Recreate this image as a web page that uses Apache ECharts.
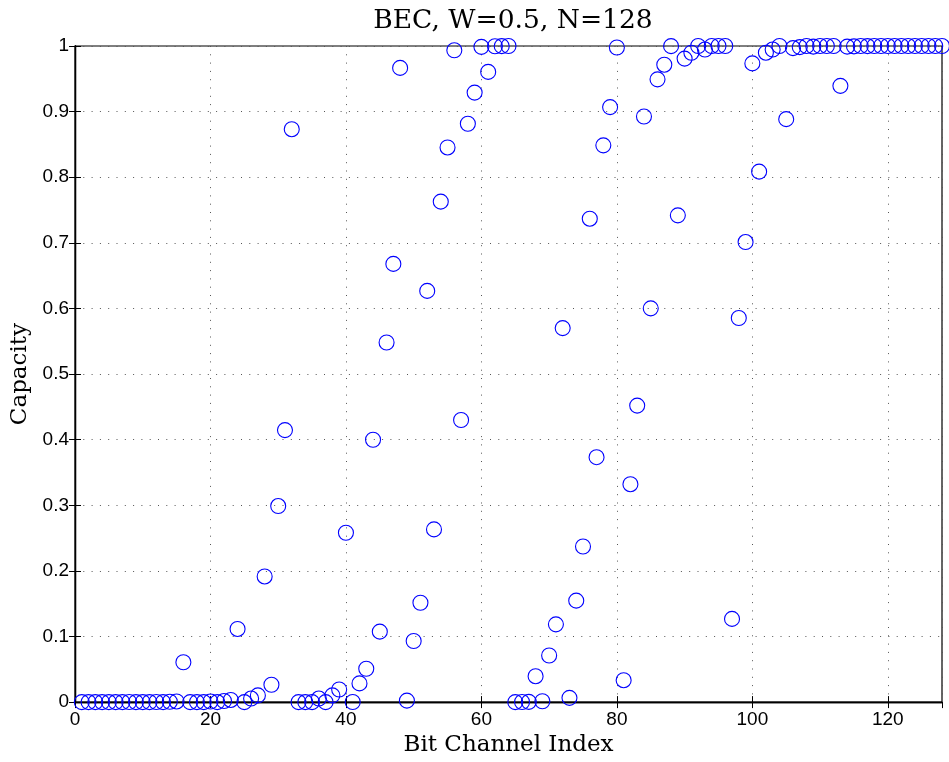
<!DOCTYPE html>
<html>
<head>
<meta charset="utf-8">
<script src="https://cdn.jsdelivr.net/npm/echarts@6/dist/echarts.min.js"></script>
<style>
  html, body { margin: 0; padding: 0; background: #fff; }
  #chart { width: 949px; height: 762px; }
</style>
</head>
<body>
<div id="chart"></div>
<script>
// capacity of each bit channel (channels 1..128)
const capacity1to32 = [
  0, 0, 0, 0, 0, 0, 0, 0.0001, 0, 0, 0, 0.0002, 0, 0.0005, 0.0010, 0.0607,
  0, 0, 0, 0.0009, 0, 0.0017, 0.0033, 0.1115, 0, 0.0054, 0.0102, 0.1915, 0.0265, 0.2988, 0.4146, 0.8732
]
const capacity33to64 = [
  0, 0, 0, 0.0054, 0, 0.0103, 0.0192, 0.2581, 0.0002, 0.0285, 0.0508, 0.3999, 0.1074, 0.5481, 0.6679, 0.9666,
  0.0023, 0.0931, 0.1514, 0.6267, 0.2632, 0.7628, 0.8454, 0.9935, 0.4300, 0.8815, 0.9290, 0.9987, 0.9605, 0.9996, 0.9998, 1
]
const capacity65to96 = [
  0, 0.0002, 0.0004, 0.0395, 0.0013, 0.0710, 0.1185, 0.5700, 0.0065, 0.1546, 0.2372, 0.7368, 0.3733, 0.8486, 0.9069, 0.9977,
  0.0334, 0.3321, 0.4519, 0.8926, 0.6001, 0.9492, 0.9715, 0.9998, 0.7419, 0.9808, 0.9897, 1, 0.9946, 1, 1, 1
]
const capacity97to128 = [
  0.1268, 0.5854, 0.7012, 0.9735, 0.8085, 0.9898, 0.9946, 1, 0.8885, 0.9967, 0.9983, 1, 0.9991, 1, 1, 1,
  0.9393, 0.9990, 0.9995, 1, 0.9998, 1, 1, 1, 0.9999, 1, 1, 1, 1, 1, 1, 1
]
const capacity = [...capacity1to32, ...capacity33to64, ...capacity65to96, ...capacity97to128]
const points = capacity.map((c, i) => [i + 1, c])

const titleText = 'BEC, W=0.5, N=128'
const xName = 'Bit Channel Index'
const yName = 'Capacity'

const serif = 'DejaVu Serif'
const sans = 'Liberation Sans'

const dotted = { color: '#555', width: 1, type: [1, 7.3] }

const chart = echarts.init(document.getElementById('chart'))
chart.setOption({
  animation: false,
  backgroundColor: '#fff',
  title: {
    text: titleText,
    left: 508,
    textAlign: 'center',
    top: 3,
    textStyle: { fontFamily: serif, fontWeight: 'normal', fontSize: 26.5, color: '#000' }
  },
  grid: {
    left: 75, right: 7, top: 46, bottom: 59,
    show: true, borderColor: '#000', borderWidth: 1.2
  },
  xAxis: [{
    type: 'value', min: 0, max: 128, interval: 20,
    name: xName, nameLocation: 'middle', nameGap: 27,
    nameTextStyle: { fontFamily: serif, fontSize: 23, color: '#000' },
    axisLine: { show: true, onZero: false, lineStyle: { color: '#000', width: 1.3 } },
    axisTick: { show: true, inside: true, length: 6, lineStyle: { color: '#000' } },
    axisLabel: { fontFamily: sans, fontSize: 19, color: '#000', margin: 8, showMaxLabel: false },
    splitLine: { show: true, lineStyle: dotted }
  }, {
    type: 'value', min: 0, max: 128, interval: 20, position: 'top',
    axisLine: { show: true, lineStyle: { color: '#000', width: 1.3 } },
    axisTick: { show: true, inside: true, length: 6, lineStyle: { color: '#000' } },
    axisLabel: { show: false },
    splitLine: { show: false }
  }],
  yAxis: [{
    type: 'value', min: 0, max: 1, interval: 0.1,
    name: yName, nameLocation: 'middle', nameGap: 42,
    nameTextStyle: { fontFamily: serif, fontSize: 23, color: '#000' },
    axisLine: { show: true, onZero: false, lineStyle: { color: '#000', width: 1.3 } },
    axisTick: { show: true, inside: true, length: 6, lineStyle: { color: '#000' } },
    axisLabel: { fontFamily: sans, fontSize: 19, color: '#000', margin: 6 },
    splitLine: { show: true, lineStyle: dotted }
  }, {
    type: 'value', min: 0, max: 1, interval: 0.1, position: 'right',
    axisLine: { show: true, lineStyle: { color: '#000', width: 1.3 } },
    axisTick: { show: true, inside: true, length: 6, lineStyle: { color: '#000' } },
    axisLabel: { show: false },
    splitLine: { show: false }
  }],
  series: [{
    type: 'scatter',
    data: points,
    clip: false,
    symbol: 'circle',
    symbolSize: 15,
    itemStyle: { color: 'rgba(0,0,0,0)', borderColor: '#0000ff', borderWidth: 1.1, opacity: 1 },
    emphasis: { disabled: true }
  }]
})
</script>
</body>
</html>
